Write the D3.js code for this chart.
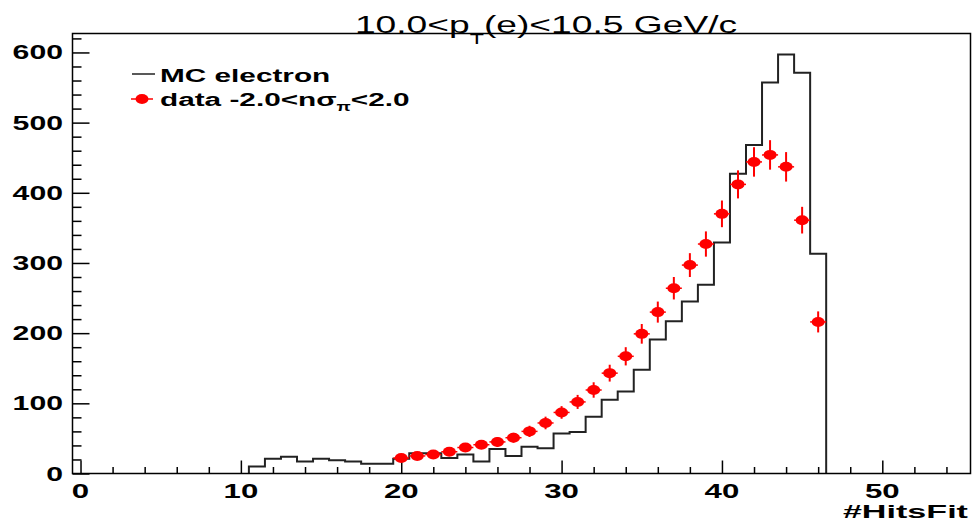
<!DOCTYPE html>
<html>
<head>
<meta charset="utf-8">
<script src="https://cdn.jsdelivr.net/npm/d3@7"></script>
<style>
  html, body { margin: 0; padding: 0; background: #fff; }
  svg { display: block; }
</style>
</head>
<body>
<div id="chart"></div>
<script>
// MC electron histogram (bin centre -> entries)
const mcBins = [11, 12, 13, 14, 15, 16, 17, 18, 19, 20, 21, 22, 23, 24, 25, 26, 27, 28,
  29, 30, 31, 32, 33, 34, 35, 36, 37, 38, 39, 40, 41, 42, 43, 44, 45, 46];
const mcCounts = [10, 21, 24, 17, 21, 19, 17, 14, 14, 21, 29, 29, 22, 27, 17, 35, 25, 38,
  36, 57, 59, 81, 105, 117, 148, 191, 217, 245, 269, 329, 427, 468, 557, 597, 571, 313];

// data -2.0<nsigma_pi<2.0
const dataBins = [20, 21, 22, 23, 24, 25, 26, 27, 28, 29, 30, 31, 32, 33, 34, 35, 36, 37,
  38, 39, 40, 41, 42, 43, 44, 45, 46];
const dataCounts = [22, 25, 27, 31, 37, 41, 45, 51, 60, 72, 87, 102, 119, 143, 167, 199, 230, 264,
  297, 327, 370, 412, 444, 454, 437, 361, 216];
const dataErrors = [5, 5, 5, 6, 6, 6, 7, 7, 8, 9, 9, 10, 11, 12, 13, 14, 15, 16,
  17, 18, 19, 20, 21, 21, 21, 19, 15];

const xMajorTicks = [0, 10, 20, 30, 40, 50];
const xMinorTicks = [2, 4, 6, 8, 12, 14, 16, 18, 22, 24, 26, 28, 32, 34, 36, 38, 42, 44, 46, 48, 52, 54];
const yMajorTicks = [0, 100, 200, 300, 400, 500, 600];
const yMinorTicks = [20, 40, 60, 80, 120, 140, 160, 180, 220, 240, 260, 280, 320, 340, 360, 380,
  420, 440, 460, 480, 520, 540, 560, 580, 620];

const width = 975;
const height = 522;
const margin = { left: 72.5, right: 4.5, top: 33.5, bottom: 48.5 };
const stretch = 1.55; // text in the original is widened horizontally
const font = '"Liberation Sans", Arial, Helvetica, sans-serif';

const svg = d3.select('#chart')
  .append('svg')
  .attr('width', width)
  .attr('height', height);

const x = d3.scaleLinear()
  .domain([-0.5, 55.5])
  .range([margin.left, width - margin.right]);

const y = d3.scaleLinear()
  .domain([0, 627])
  .range([height - margin.bottom, margin.top]);

// stretched text helper
function addText(px, py, anchor, size, weight, sx = stretch) {
  return svg.append('text')
    .attr('transform', `translate(${px},${py}) scale(${sx},1)`)
    .attr('text-anchor', anchor)
    .attr('font-family', font)
    .attr('font-size', size)
    .attr('font-weight', weight)
    .attr('fill', '#000');
}

// Ticks (inside frame, ROOT style)
const yAxisMajor = svg.append('g')
  .attr('transform', `translate(${margin.left},0)`)
  .call(d3.axisLeft(y).tickValues(yMajorTicks).tickSize(-17).tickSizeOuter(0).tickFormat(''));
const yAxisMinor = svg.append('g')
  .attr('transform', `translate(${margin.left},0)`)
  .call(d3.axisLeft(y).tickValues(yMinorTicks).tickSize(-9).tickSizeOuter(0).tickFormat(''));
const xAxisMajor = svg.append('g')
  .attr('transform', `translate(0,${height - margin.bottom})`)
  .call(d3.axisBottom(x).tickValues(xMajorTicks).tickSize(-13).tickSizeOuter(0).tickFormat(''));
const xAxisMinor = svg.append('g')
  .attr('transform', `translate(0,${height - margin.bottom})`)
  .call(d3.axisBottom(x).tickValues(xMinorTicks).tickSize(-6.5).tickSizeOuter(0).tickFormat(''));

[yAxisMajor, yAxisMinor, xAxisMajor, xAxisMinor].forEach(g => {
  g.select('.domain').remove();
  g.selectAll('line').attr('stroke', '#000').attr('stroke-width', 1.5);
});

// Tick labels
yMajorTicks.forEach(v => {
  addText(63, y(v) + 7, 'end', 19.5, 'bold').text(v);
});
xMajorTicks.forEach(v => {
  addText(x(v), 498, 'middle', 19.5, 'bold', 1.6).text(v);
});

// Axis title
addText(968, 518, 'end', 17.5, 'bold', 1.95).text('#HitsFit');

// MC histogram (step outline)
const histPoints = [[mcBins[0] - 0.5, 0]]
  .concat(mcBins.map((b, i) => [b - 0.5, mcCounts[i]]))
  .concat([[mcBins[mcBins.length - 1] + 0.5, 0]]);

const stepLine = d3.line()
  .x(d => x(d[0]))
  .y(d => y(d[1]))
  .curve(d3.curveStepAfter);

svg.append('path')
  .datum(histPoints)
  .attr('d', stepLine)
  .attr('fill', 'none')
  .attr('stroke', '#222')
  .attr('stroke-width', 2);

// Data points with error bars
const points = dataBins.map((b, i) => ({ b, v: dataCounts[i], e: dataErrors[i] }));
const pts = svg.append('g').selectAll('g')
  .data(points)
  .enter()
  .append('g');

pts.append('line')
  .attr('x1', d => x(d.b))
  .attr('x2', d => x(d.b))
  .attr('y1', d => y(d.v - d.e))
  .attr('y2', d => y(d.v + d.e))
  .attr('stroke', '#ff0000')
  .attr('stroke-width', 2);

pts.append('line')
  .attr('x1', d => x(d.b - 0.5))
  .attr('x2', d => x(d.b + 0.5))
  .attr('y1', d => y(d.v))
  .attr('y2', d => y(d.v))
  .attr('stroke', '#ff0000')
  .attr('stroke-width', 1.5);

pts.append('ellipse')
  .attr('cx', d => x(d.b))
  .attr('cy', d => y(d.v))
  .attr('rx', 6.5)
  .attr('ry', 5)
  .attr('fill', '#ff0000');

// Frame
svg.append('rect')
  .attr('x', margin.left)
  .attr('y', margin.top)
  .attr('width', width - margin.left - margin.right)
  .attr('height', height - margin.top - margin.bottom)
  .attr('fill', 'none')
  .attr('stroke', '#000')
  .attr('stroke-width', 1.5);

// Title
const title = addText(546, 33, 'middle', 24, 'normal');
title.append('tspan').text('10.0<p');
title.append('tspan').attr('font-size', 15).attr('dy', 11).text('T');
title.append('tspan').attr('dy', -11).text('(e)<10.5 GeV/c');

// Legend
svg.append('line')
  .attr('x1', 132).attr('x2', 155)
  .attr('y1', 74).attr('y2', 74)
  .attr('stroke', '#222')
  .attr('stroke-width', 1.5);
addText(160, 82, 'start', 19.2, 'bold').text('MC electron');

svg.append('line')
  .attr('x1', 131).attr('x2', 153)
  .attr('y1', 99).attr('y2', 99)
  .attr('stroke', '#ff0000')
  .attr('stroke-width', 1.5);
svg.append('ellipse')
  .attr('cx', 142).attr('cy', 99)
  .attr('rx', 6.5).attr('ry', 5)
  .attr('fill', '#ff0000');
const leg2 = addText(160, 106, 'start', 19.2, 'bold');
leg2.append('tspan').text('data -2.0<n\u03c3');
leg2.append('tspan').attr('font-size', 12).attr('dy', 5).text('\u03c0');
leg2.append('tspan').attr('dy', -5).text('<2.0');
</script>
</body>
</html>
